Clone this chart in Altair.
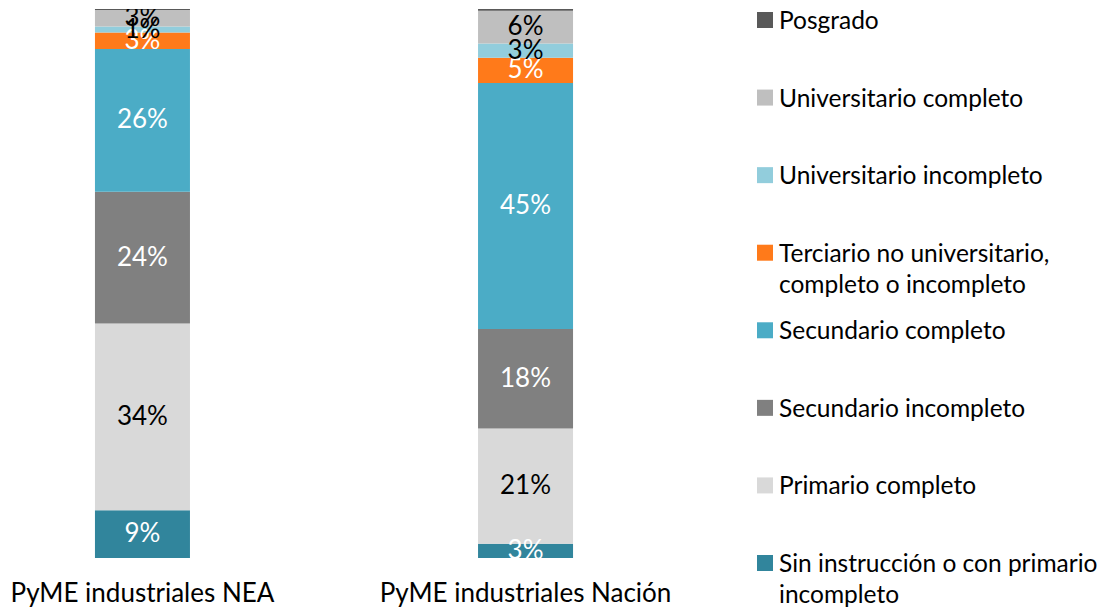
import altair as alt
import pandas as pd

categories = ["PyME industriales NEA", "PyME industriales Nación"]
levels = [
    "Sin instrucción o con primario incompleto",
    "Primario completo",
    "Secundario incompleto",
    "Secundario completo",
    "Terciario no universitario, completo o incompleto",
    "Universitario incompleto",
    "Universitario completo",
    "Posgrado",
]
nea = [8.7, 34.0, 24.0, 26.0, 3.0, 1.1, 3.0, 0.2]
nacion = [2.6, 21.0, 18.1, 44.8, 4.6, 2.6, 6.0, 0.3]
legend_texts = [
    "Posgrado",
    "Universitario completo",
    "Universitario incompleto",
    "Terciario no universitario,\ncompleto o incompleto",
    "Secundario completo",
    "Secundario incompleto",
    "Primario completo",
    "Sin instrucción o con primario\nincompleto",
]

colors = ["#31859C", "#D9D9D9", "#808080", "#4BACC6", "#FF7A1A", "#92CDDC", "#BFBFBF", "#595959"]
dark_levels = [levels[0], levels[2], levels[3], levels[4]]
FONT = "Lato"

rows = []
for cat, vals in zip(categories, [nea, nacion]):
    for i, (lvl, v) in enumerate(zip(levels, vals)):
        rows.append({"grupo": cat, "nivel": lvl, "orden": i, "valor": v})
df = pd.DataFrame(rows)

color_scale = alt.Scale(domain=levels, range=colors)
x_enc = alt.X(
    "grupo:N",
    sort=categories,
    scale=alt.Scale(paddingInner=0.752, paddingOuter=0.227),
    axis=alt.Axis(title=None, labelAngle=0, domain=False, ticks=False, labelFontSize=26,
                  labelFont=FONT, labelColor="black", labelPadding=22, labelLimit=0,
                  labelBaseline="top"),
)
y_scale = alt.Scale(domain=[0, 100], nice=False, zero=True)

bars = alt.Chart(df).mark_bar().encode(
    x=x_enc,
    y=alt.Y("valor:Q", stack="zero", scale=y_scale, axis=None),
    color=alt.Color("nivel:N", scale=color_scale, legend=None),
    order=alt.Order("orden:Q", sort="ascending"),
)

labels = (
    alt.Chart(df)
    .transform_stack(stack="valor", as_=["y0", "y1"], groupby=["grupo"],
                     sort=[alt.SortField("orden", order="ascending")])
    .transform_calculate(mid="(datum.y0 + datum.y1) / 2",
                         label="format(datum.valor, '.0f') + '%'")
    .transform_filter("datum.valor >= 0.5")
    .mark_text(font=FONT, fontSize=26, baseline="middle", clip=True)
    .encode(
        x=x_enc,
        y=alt.Y("mid:Q", scale=y_scale, axis=None),
        text="label:N",
        color=alt.condition(alt.FieldOneOfPredicate(field="nivel", oneOf=dark_levels),
                            alt.value("white"), alt.value("black")),
    )
)

bar_chart = alt.layer(bars, labels).properties(width=652, height=549)

legend_df = pd.DataFrame({"nivel": levels[::-1], "texto": legend_texts})
leg_y = alt.Y("nivel:N", sort=levels[::-1], scale=alt.Scale(type="point", padding=0.142), axis=None)
squares = alt.Chart(legend_df).mark_square(size=256, opacity=1).encode(
    y=leg_y, x=alt.value(105),
    color=alt.Color("nivel:N", scale=color_scale, legend=None),
)
texts = alt.Chart(legend_df).mark_text(
    align="left", baseline="top", dy=-10, lineBreak="\n", lineHeight=31,
    font=FONT, fontSize=24.5, color="black",
).encode(y=leg_y, x=alt.value(119), text="texto:N")
legend = alt.layer(squares, texts).properties(width=440, height=565)

chart = (
    alt.hconcat(bar_chart, legend, spacing=0, bounds="flush")
    .properties(padding={"left": 0, "top": 1, "right": 0, "bottom": 0})
    .configure(font=FONT)
    .configure_view(strokeWidth=0, stroke="transparent")
)

chart.save("out.html", embed_options={"renderer": "svg", "actions": False})
